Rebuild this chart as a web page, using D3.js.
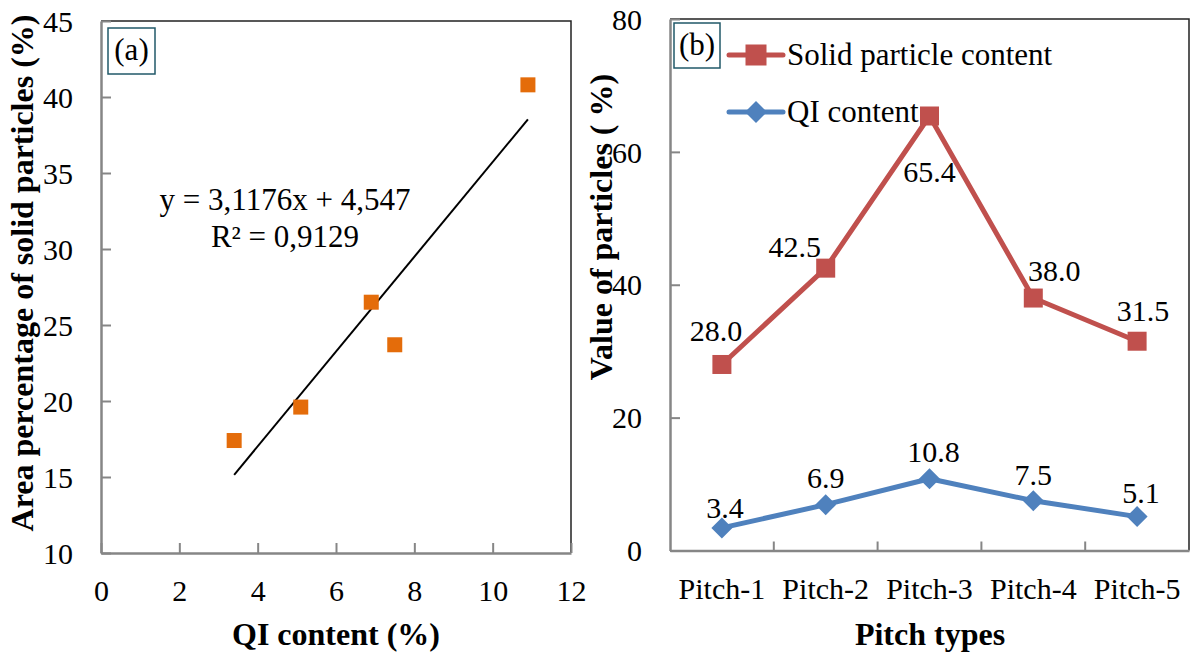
<!DOCTYPE html>
<html><head><meta charset="utf-8">
<script src="https://cdn.jsdelivr.net/npm/d3@7"></script>
<style>
html,body{margin:0;padding:0;background:#fff;}
svg{display:block;font-family:'Liberation Serif','Times New Roman',serif;}
</style></head>
<body>
<svg id="chart" width="1193" height="653"></svg>
<script>
// ---------- Panel (a) data ----------
const qiX = [3.4, 5.1, 6.9, 7.5, 10.9];
const solidY = [17.4, 19.6, 26.5, 23.7, 40.8];
const trendSlope = 3.1176;
const trendIntercept = 4.547;
const aXTicks = [0, 2, 4, 6, 8, 10, 12];
const aYTicks = [10, 15, 20, 25, 30, 35, 40, 45];
const equationText = "y = 3,1176x + 4,547";
const r2Text = "R\u00B2 = 0,9129";

// ---------- Panel (b) data ----------
const pitchTypes = ["Pitch-1", "Pitch-2", "Pitch-3", "Pitch-4", "Pitch-5"];
const solidContent = [28.0, 42.5, 65.4, 38.0, 31.5];
const qiContent = [3.4, 6.9, 10.8, 7.5, 5.1];
const bYTicks = [0, 20, 40, 60, 80];
const seriesNames = ["Solid particle content", "QI content"];

// label placement (style only)
const solidLabelOffset = [[-6,-23],[-31,-11],[0,66],[21,-17],[6,-20]];
const qiLabelOffset = [[3,-10],[0,-17],[4,-17],[0,-16],[4,-14]];

const svg = d3.select("#chart");
svg.append("rect").attr("width",1193).attr("height",653).attr("fill","#fff");

const AX = "#868686";
const TICKFS = 30;

function styleAxis(g){
  g.select(".domain").attr("stroke", AX).attr("stroke-width", 2.5);
  g.selectAll(".tick line").attr("stroke", AX).attr("stroke-width", 2);
  g.selectAll(".tick text").attr("fill","#000").attr("font-size", TICKFS)
    .attr("font-family","'Liberation Serif','Times New Roman',serif");
}

// ================= Panel (a) =================
const ax = d3.scaleLinear().domain([0,12]).range([101,571]);
const ay = d3.scaleLinear().domain([10,45]).range([553,21]);

svg.append("path")
  .attr("d", `M${ax(0)},${ay(45)}H${ax(12)}V${ay(10)}`)
  .attr("fill","none").attr("stroke","#222").attr("stroke-width",1.5);

const aYAxis = svg.append("g").attr("transform",`translate(${ax(0)},0)`)
  .call(d3.axisLeft(ay).tickValues(aYTicks).tickSize(-10).tickPadding(28).tickSizeOuter(0));
styleAxis(aYAxis);
aYAxis.selectAll(".tick text").attr("dy","0.34em");

const aXAxis = svg.append("g").attr("transform",`translate(0,${ay(10)})`)
  .call(d3.axisBottom(ax).tickValues(aXTicks).tickSize(-10).tickSizeOuter(0));
styleAxis(aXAxis);
aXAxis.selectAll(".tick text").attr("y",48).attr("dy",0);

// trendline
const xMin = d3.min(qiX), xMax = d3.max(qiX);
svg.append("line")
  .attr("x1", ax(xMin)).attr("y1", ay(trendSlope*xMin+trendIntercept))
  .attr("x2", ax(xMax)).attr("y2", ay(trendSlope*xMax+trendIntercept))
  .attr("stroke","#000").attr("stroke-width",2);

// points
svg.append("g").selectAll("rect").data(qiX).join("rect")
  .attr("x",(d)=>ax(d)-7.5).attr("y",(d,i)=>ay(solidY[i])-7.5)
  .attr("width",15).attr("height",15).attr("fill","#E46C0A");

// equation
svg.append("text").attr("x",285).attr("y",210).attr("text-anchor","middle")
  .attr("font-size",31).text(equationText);
svg.append("text").attr("x",285).attr("y",247).attr("text-anchor","middle")
  .attr("font-size",31).text(r2Text);

// (a) box
svg.append("rect").attr("x",108).attr("y",28).attr("width",47).attr("height",46)
  .attr("fill","#fff").attr("stroke","#215868").attr("stroke-width",1.5);
svg.append("text").attr("x",131.5).attr("y",60).attr("text-anchor","middle")
  .attr("font-size",31).text("(a)");

// titles
svg.append("text").attr("transform","translate(33,273) rotate(-90)")
  .attr("text-anchor","middle").attr("font-weight","bold").attr("font-size",32)
  .text("Area percentage of solid particles (%)");
svg.append("text").attr("x",336).attr("y",645).attr("text-anchor","middle")
  .attr("font-weight","bold").attr("font-size",32).text("QI content (%)");

// ================= Panel (b) =================
const bx = d3.scaleBand().domain(pitchTypes).range([670,1189]);
const by = d3.scaleLinear().domain([0,80]).range([550.5,19]);
const cx = (d)=> bx(d) + bx.bandwidth()/2;

svg.append("path")
  .attr("d", `M${bx.range()[0]},${by(80)}H${bx.range()[1]}V${by(0)}`)
  .attr("fill","none").attr("stroke","#222").attr("stroke-width",1.5);

const bYAxis = svg.append("g").attr("transform",`translate(${bx.range()[0]},0)`)
  .call(d3.axisLeft(by).tickValues(bYTicks).tickSize(-10).tickPadding(28).tickSizeOuter(0));
styleAxis(bYAxis);
bYAxis.selectAll(".tick text").attr("dy","0.34em");

const bXAxis = svg.append("g").attr("transform",`translate(0,${by(0)})`)
  .call(d3.axisBottom(bx).tickSize(0).tickSizeOuter(0));
styleAxis(bXAxis);
bXAxis.selectAll(".tick text").attr("y",48).attr("dy",0);
// category boundary ticks
bXAxis.selectAll("line.sep").data(pitchTypes.slice(1)).join("line")
  .attr("class","sep")
  .attr("x1",(d)=>bx(d)).attr("x2",(d)=>bx(d)).attr("y1",0).attr("y2",-9)
  .attr("stroke",AX).attr("stroke-width",2);

const RED = "#C0504D", BLUE = "#4F81BD";
const line = d3.line().x((d,i)=>cx(pitchTypes[i])).y((d)=>by(d));

svg.append("path").datum(solidContent).attr("d",line)
  .attr("fill","none").attr("stroke",RED).attr("stroke-width",5).attr("stroke-linejoin","round");
svg.append("path").datum(qiContent).attr("d",line)
  .attr("fill","none").attr("stroke",BLUE).attr("stroke-width",5).attr("stroke-linejoin","round");

function square(g, x, y, s, c){
  g.append("rect").attr("x",x-s/2).attr("y",y-s/2).attr("width",s).attr("height",s).attr("fill",c);
}
function diamond(g, x, y, r, c){
  g.append("path").attr("d",`M${x},${y-r}L${x+r},${y}L${x},${y+r}L${x-r},${y}Z`).attr("fill",c);
}
const mk = svg.append("g");
solidContent.forEach((v,i)=> square(mk, cx(pitchTypes[i]), by(v), 19, RED));
qiContent.forEach((v,i)=> diamond(mk, cx(pitchTypes[i]), by(v), 10.5, BLUE));

const lbl = svg.append("g").attr("font-size",30).attr("text-anchor","middle");
solidContent.forEach((v,i)=>{
  lbl.append("text").attr("x",cx(pitchTypes[i])+solidLabelOffset[i][0])
    .attr("y",by(v)+solidLabelOffset[i][1]).text(v.toFixed(1));
});
qiContent.forEach((v,i)=>{
  lbl.append("text").attr("x",cx(pitchTypes[i])+qiLabelOffset[i][0])
    .attr("y",by(v)+qiLabelOffset[i][1]).text(v.toFixed(1));
});

// legend
const lg = svg.append("g");
lg.append("line").attr("x1",729).attr("x2",783).attr("y1",55).attr("y2",55)
  .attr("stroke",RED).attr("stroke-width",5).attr("stroke-linecap","round");
square(lg, 756, 55, 21, RED);
lg.append("text").attr("x",787).attr("y",65).attr("font-size",31).text(seriesNames[0]);
lg.append("line").attr("x1",729).attr("x2",783).attr("y1",112).attr("y2",112)
  .attr("stroke",BLUE).attr("stroke-width",5).attr("stroke-linecap","round");
diamond(lg, 756, 112, 11, BLUE);
lg.append("text").attr("x",787).attr("y",122).attr("font-size",31).text(seriesNames[1]);

// (b) box
svg.append("rect").attr("x",674).attr("y",23).attr("width",46).attr("height",45)
  .attr("fill","#fff").attr("stroke","#215868").attr("stroke-width",1.5);
svg.append("text").attr("x",697).attr("y",55).attr("text-anchor","middle")
  .attr("font-size",31).text("(b)");

// titles
svg.append("text").attr("transform","translate(612,227) rotate(-90)")
  .attr("text-anchor","middle").attr("font-weight","bold").attr("font-size",32)
  .text("Value of particles ( %)");
svg.append("text").attr("x",930).attr("y",645).attr("text-anchor","middle")
  .attr("font-weight","bold").attr("font-size",32).text("Pitch types");
</script>
</body></html>
